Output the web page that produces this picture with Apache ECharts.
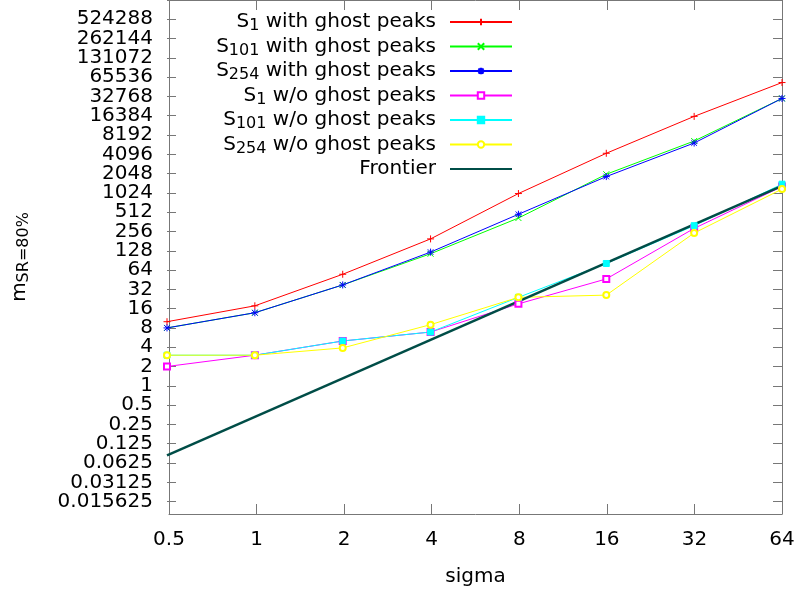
<!DOCTYPE html>
<html>
<head>
<meta charset="utf-8">
<script src="https://cdn.jsdelivr.net/npm/echarts@6/dist/echarts.min.js"></script>
<style>
html, body { margin: 0; padding: 0; background: #fff; }
#chart { width: 799px; height: 594px; }
</style>
</head>
<body>
<div id="chart"></div>
<script>
// sigma values on the x axis
var sigmas = [0.5, 1, 2, 4, 8, 16, 32, 64];

// m_SR=80%
var s1With   = [10, 17.7, 55, 196, 1000, 4250, 16000, 54000];
var s101With = [8, 13.8, 37.5, 115, 415, 2000, 6600, 30500];
var s254With = [8, 13.8, 37.5, 122, 475, 1840, 6150, 30500];
var s1Wo     = [2, 3, 5, 6.9, 19, 46.5, 286, 1285];
var s101Wo   = [3, 3, 5, 6.9, 24, 81, 315, 1400];
var s254Wo   = [3, 3, 3.9, 9, 24, 26, 242, 1175];
var frontierX = [0.5, 64];
var frontierY = [0.082, 1320];

var seriesNames = ['S1 with ghost peaks', 'S101 with ghost peaks', 'S254 with ghost peaks',
    'S1 w/o ghost peaks', 'S101 w/o ghost peaks', 'S254 w/o ghost peaks', 'Frontier'];

var xTickLabels = ['0.5', '1', '2', '4', '8', '16', '32', '64'];
var yTickLabels = ['0.015625', '0.03125', '0.0625', '0.125', '0.25', '0.5', '1', '2', '4', '8',
    '16', '32', '64', '128', '256', '512', '1024', '2048', '4096', '8192', '16384', '32768',
    '65536', '131072', '262144', '524288'];

var FONT = 'DejaVu Sans';
var AXIS_GRAY = '#777';
var H = 594;

// frame (plot box) in pixels and its y range
var FRAME = { left: 167, right: 17, top: -1, bottom: 80 };
var Y_MIN = 0.01, Y_MAX = 1000000;
var log2 = function (v) { return Math.log(v) / Math.LN2; };
var frameBottomPx = H - FRAME.bottom;
var pxPerExp = (frameBottomPx - FRAME.top) / (log2(Y_MAX) - log2(Y_MIN));
// grid whose y axis runs between two whole powers of two, lined up with the frame
function alignedGrid(eLo, eHi) {
    var bottomPx = frameBottomPx - (eLo - log2(Y_MIN)) * pxPerExp;
    var topPx = FRAME.top - (eHi - log2(Y_MAX)) * pxPerExp;
    return { left: FRAME.left, right: FRAME.right, top: topPx, bottom: H - bottomPx };
}

function pairs(xs, ys) {
    return xs.map(function (x, i) { return [x, ys[i]]; });
}
function pow2Label(list) {
    return function (v) {
        var e = log2(v);
        var r = Math.round(e);
        if (Math.abs(e - r) > 1e-6) return '';
        var s = String(Math.pow(2, r));
        return list.indexOf(s) >= 0 ? s : '';
    };
}

var PLUS = 'path://M0,5L10,5M5,0L5,10';
var CROSS = 'path://M0,0L10,10M10,0L0,10';
var STAR = 'path://M0,5L10,5M5,0L5,10M1,1L9,9M9,1L1,9';

function mkSeries(name, ys, color, symbol, size) {
    return {
        name: name,
        type: 'line',
        xAxisIndex: 2,
        yAxisIndex: 2,
        data: pairs(sigmas, ys),
        symbol: symbol,
        symbolSize: size,
        lineStyle: { color: color, width: 1 },
        itemStyle: { color: color, borderColor: color, borderWidth: 1 }
    };
}

var series = [
    mkSeries(seriesNames[0], s1With, '#ff0000', PLUS, 7),
    mkSeries(seriesNames[1], s101With, '#00ff00', CROSS, 6),
    mkSeries(seriesNames[2], s254With, '#0000ff', STAR, 7),
    mkSeries(seriesNames[3], s1Wo, '#ff00ff', 'emptyRect', 6),
    mkSeries(seriesNames[4], s101Wo, '#00ffff', 'rect', 6),
    mkSeries(seriesNames[5], s254Wo, '#ffff00', 'emptyCircle', 6),
    {
        name: seriesNames[6],
        type: 'line',
        xAxisIndex: 2,
        yAxisIndex: 2,
        data: pairs(frontierX, frontierY),
        symbol: 'none',
        lineStyle: { color: '#004d47', width: 2.5 },
        itemStyle: { color: '#004d47' }
    }
];

function xAxisCfg(pos, grid) {
    return {
        type: 'log', logBase: 2, min: 0.5, max: 64, interval: 1,
        gridIndex: grid,
        position: pos,
        show: grid === 0,
        axisLine: { lineStyle: { color: AXIS_GRAY, width: 1 } },
        axisTick: { inside: true, length: 10, lineStyle: { color: AXIS_GRAY } },
        axisLabel: {
            show: pos === 'bottom', margin: 16, fontSize: 20, color: '#000', fontFamily: FONT,
            formatter: pow2Label(xTickLabels)
        },
        splitLine: { show: false }
    };
}
// frame y axes: only the border line
function yFrameCfg(pos) {
    return {
        type: 'log', logBase: 2, min: Y_MIN, max: Y_MAX,
        gridIndex: 0,
        position: pos,
        axisLine: { lineStyle: { color: AXIS_GRAY, width: 1 } },
        axisTick: { show: false },
        axisLabel: { show: false },
        splitLine: { show: false }
    };
}
// tick marks at powers of two (grid 1, 2^-6 .. 2^20)
function yTickCfg(pos) {
    return {
        type: 'log', logBase: 2, min: Math.pow(2, -6), max: Math.pow(2, 20), interval: 1,
        gridIndex: 1,
        position: pos,
        axisLine: { show: false },
        axisTick: { inside: true, length: 9, lineStyle: { color: AXIS_GRAY } },
        axisLabel: { show: false },
        splitLine: { show: false }
    };
}
// tick labels (grid 2, 2^-7 .. 2^20 so the lowest real label is not the axis end)
var yLabelAxis = {
    type: 'log', logBase: 2, min: Math.pow(2, -7), max: Math.pow(2, 20), interval: 1,
    gridIndex: 2,
    position: 'left',
    axisLine: { show: false },
    axisTick: { show: false },
    axisLabel: {
        margin: 14, fontSize: 20, color: '#000', fontFamily: FONT,
        formatter: pow2Label(yTickLabels)
    },
    splitLine: { show: false }
};

var xBottom = xAxisCfg('bottom', 0);
xBottom.name = 'sigma';
xBottom.nameLocation = 'middle';
xBottom.nameGap = 53;
xBottom.nameTextStyle = { fontSize: 20, color: '#000', fontFamily: FONT };

var yLeft = yFrameCfg('left');
yLeft.name = '{n|m}{s|SR=80%}';
yLeft.nameLocation = 'middle';
yLeft.nameRotate = 90;
yLeft.nameGap = 137;
yLeft.nameTextStyle = {
    color: '#000', fontFamily: FONT, fontSize: 20, lineHeight: 24,
    rich: {
        n: { fontSize: 20, lineHeight: 24, fontFamily: FONT, color: '#000' },
        s: { fontSize: 16, lineHeight: 18, verticalAlign: 'bottom', fontFamily: FONT, color: '#000' }
    }
};

var legendData = seriesNames.map(function (n) {
    return n === 'Frontier' ? { name: n, itemStyle: { opacity: 0 } } : n;
});

var option = {
    animation: false,
    backgroundColor: '#fff',
    grid: [
        { left: FRAME.left, right: FRAME.right, top: FRAME.top, bottom: FRAME.bottom },
        alignedGrid(-6, 20),
        alignedGrid(-7, 20)
    ],
    legend: {
        orient: 'vertical',
        align: 'right',
        right: 286,
        top: 10,
        padding: 0,
        itemGap: 0.5,
        itemWidth: 62,
        itemHeight: 8,
        selectedMode: false,
        data: legendData,
        formatter: function (name) {
            var m = name.match(/^S(\d+) (.*)$/);
            if (m) return '{n|S}{s|' + m[1] + '}{n| ' + m[2] + '}{p| }';
            return '{n|' + name + '}{p| }';
        },
        textStyle: {
            color: '#000', fontFamily: FONT, fontSize: 20, lineHeight: 24,
            rich: {
                n: { fontSize: 20, lineHeight: 24, fontFamily: FONT, color: '#000' },
                s: { fontSize: 16, lineHeight: 14, verticalAlign: 'bottom', fontFamily: FONT, color: '#000' },
                p: { fontSize: 20, lineHeight: 24, width: 9 }
            }
        }
    },
    xAxis: [xBottom, xAxisCfg('top', 0), xAxisCfg('bottom', 1), xAxisCfg('bottom', 2)],
    yAxis: [yLeft, yFrameCfg('right'), yTickCfg('left'), yTickCfg('right'), yLabelAxis],
    series: series
};

var chart = echarts.init(document.getElementById('chart'), null, { renderer: 'canvas' });
chart.setOption(option);
</script>
</body>
</html>
